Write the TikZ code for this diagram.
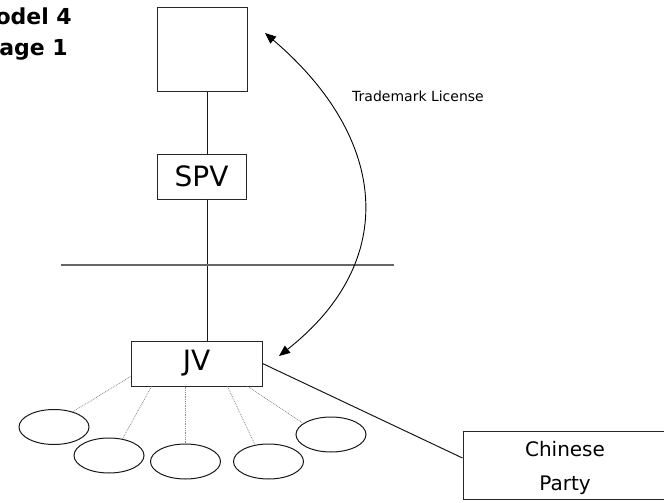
\documentclass[tikz,border=0pt]{standalone}
\usepackage{fontspec}
\setmainfont{DejaVu Sans}
\usetikzlibrary{arrows.meta,calc,shapes.geometric}

\tikzset{
  box/.style={draw=black!85, line width=1pt, rectangle, inner sep=0pt,
              font=\fontsize{28}{32}\selectfont},
  unit/.style={draw=black!90, line width=1pt, ellipse, inner sep=0pt,
               minimum width=70pt, minimum height=35pt},
  link/.style={draw=black!90, line width=1pt},
  sublink/.style={draw=black!45, line width=0.8pt, densely dotted},
  rule/.style={draw=black!60, line width=1.4pt},
  heading/.style={font=\fontsize{22}{26}\selectfont\bfseries, inner sep=0pt, anchor=base east},
  license/.style={draw=black, line width=0.9pt,
                  {Triangle[length=11pt,width=9pt]}-{Triangle[length=11pt,width=9pt]}},
}

\begin{document}
\begin{tikzpicture}[x=1pt,y=-1pt]
  \useasboundingbox (0,0) rectangle (664,503);

  % page heading (runs past the left margin)
  \node[heading] (model) at (72,25) {Model 4};
  \node[heading] (page)  at (68,56) {Page 1};

  % ownership chain
  \node[box, minimum width=90pt, minimum height=83pt] (parent) at (202,49.5) {};
  \node[box, minimum width=89pt, minimum height=45pt] (spv) at (201.5,176.5) {SPV};
  \node[box, minimum width=131pt, minimum height=45pt] (jv) at (196.5,363.5) {JV};
  \node[box, minimum width=206pt, minimum height=68pt] (cp) at (566,465) {};
  \node[align=center, inner sep=0pt, font=\fontsize{20}{34}\selectfont]
    (cptext) at ([xshift=-1pt,yshift=-3pt]cp.center) {Chinese\\Party};

  \coordinate (spine) at (207,0);
  \draw[link] (parent.south -| spine) -- (spv.north -| spine);
  \draw[link] (spv.south -| spine) -- (jv.north -| spine);
  \draw[link] (jv.east) -- ([yshift=7pt]cp.west);

  % border line
  \coordinate (borderL) at (61,265);
  \coordinate (borderR) at (394,265);
  \draw[rule] (borderL) -- (borderR);

  % subsidiaries
  \node[unit] (e1) at (54,427) {};
  \node[unit] (e2) at (109,455.5) {};
  \node[unit] (e3) at (185.5,461.5) {};
  \node[unit] (e4) at (268.5,461.5) {};
  \node[unit] (e5) at (331,434.5) {};

  \draw[sublink] ($(jv.south west)+(0,-10)$) -- (e1.39);
  \draw[sublink] ($(jv.south west)+(21,0)$) -- (e2.51);
  \draw[sublink] ($(jv.south west)+(55,0)$) -- (e3.90);
  \draw[sublink] ($(jv.south west)+(97,0)$) -- (e4.129);
  \draw[sublink] ($(jv.south west)+(117,0)$) -- (e5.158);

  % trademark licence arrow
  \coordinate (tmTop) at (265,33);
  \coordinate (tmBot) at (279,356);
  \draw[license] (tmTop) .. controls (388,138) and (400,261) .. (tmBot);
  \node[font=\fontsize{14}{16}\selectfont, anchor=base west, inner sep=0pt]
    (tmlabel) at (352,101) {Trademark License};
\end{tikzpicture}
\end{document}
